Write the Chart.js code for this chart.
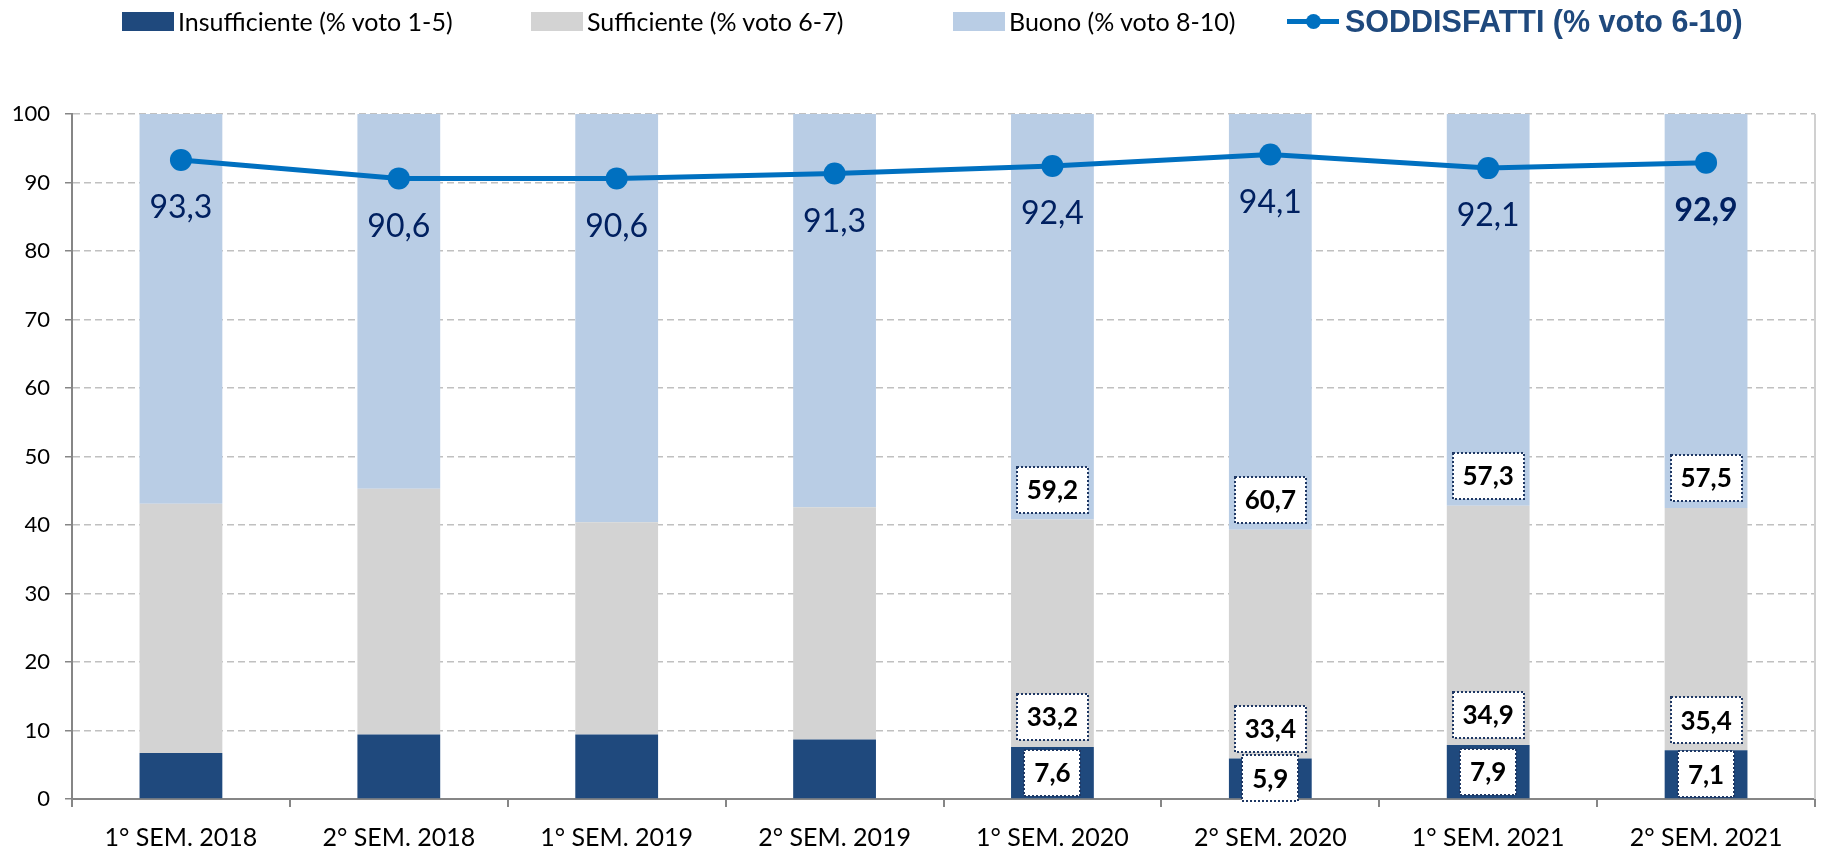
<!DOCTYPE html>
<html>
<head>
<meta charset="utf-8">
<script src="https://cdn.jsdelivr.net/npm/chart.js@4.4.0/dist/chart.umd.min.js"></script>
<style>
  html, body { margin: 0; padding: 0; background: #fff; }
  #wrap { position: relative; width: 1826px; height: 852px; }
  #chart { position: absolute; left: 0; top: 0; }
  .leg { position: absolute; top: 0; height: 42px; display: flex; align-items: center;
         font-family: Lato, sans-serif; font-size: 25px; color: #000; white-space: nowrap; }
  .key { width: 52px; height: 19px; margin-right: 4px; }
  .lkey { position: relative; width: 52px; height: 5px; background: #0070c0; margin-right: 6px; }
  .lkey span { position: absolute; left: 19px; top: -5px; width: 15px; height: 15px; border-radius: 50%; background: #0070c0; }
  .bold { font-family: "Liberation Sans", Arial, sans-serif; font-weight: bold; font-size: 30.5px; color: #1f497d; }
</style>
</head>
<body>
<div id="wrap">
  <canvas id="chart" width="1826" height="852"></canvas>
  <div class="leg" style="left:122px"><div class="key" style="background:#1f497d"></div>Insufficiente (% voto 1-5)</div>
  <div class="leg" style="left:531px"><div class="key" style="background:#d3d3d3"></div>Sufficiente (% voto 6-7)</div>
  <div class="leg" style="left:953px"><div class="key" style="background:#b9cde5"></div>Buono (% voto 8-10)</div>
  <div class="leg bold" style="left:1287px"><div class="lkey"><span></span></div>SODDISFATTI (% voto 6-10)</div>
</div>
<script>
const semesters = ['1° SEM. 2018', '2° SEM. 2018', '1° SEM. 2019', '2° SEM. 2019',
                   '1° SEM. 2020', '2° SEM. 2020', '1° SEM. 2021', '2° SEM. 2021'];
const insufficiente = [6.7, 9.4, 9.4, 8.7, 7.6, 5.9, 7.9, 7.1];
const sufficiente = [36.4, 35.9, 31.0, 33.9, 33.2, 33.4, 34.9, 35.4];
const buono = [56.9, 54.7, 59.6, 57.4, 59.2, 60.7, 57.3, 57.5];
const soddisfatti = [93.3, 90.6, 90.6, 91.3, 92.4, 94.1, 92.1, 92.9];
// only the last four semesters carry boxed values on the bars
const boxedColumns = [false, false, false, false, true, true, true, true];

const fmt = v => v.toFixed(1).replace('.', ',');

// value labels: under the line points and boxed inside the bars
const valueLabels = {
  id: 'valueLabels',
  afterDatasetsDraw(chart) {
    const ctx = chart.ctx;
    ctx.save();
    ctx.textAlign = 'center';
    ctx.textBaseline = 'middle';

    const lineMeta = chart.getDatasetMeta(3);
    lineMeta.data.forEach((pt, i) => {
      ctx.font = (i === soddisfatti.length - 1 ? 'bold ' : '') + '32px Lato';
      ctx.fillStyle = '#002060';
      ctx.fillText(fmt(soddisfatti[i]), pt.x, pt.y + 48);
    });

    [0, 1, 2].forEach(di => {
      const meta = chart.getDatasetMeta(di);
      const values = chart.data.datasets[di].data;
      meta.data.forEach((bar, i) => {
        if (!boxedColumns[i]) return;
        const txt = fmt(values[i]);
        ctx.font = 'bold 26px Lato';
        const w = Math.round(ctx.measureText(txt).width + 20);
        const h = 46;
        const cy = di === 0 ? (bar.y + bar.base) / 2 : bar.base - 7 - h / 2;
        const x0 = Math.round(bar.x - w / 2), y0 = Math.round(cy - h / 2);
        ctx.fillStyle = '#fff';
        ctx.fillRect(x0, y0, w, h);
        ctx.setLineDash([2, 2]);
        ctx.lineWidth = 2;
        ctx.strokeStyle = '#1f3864';
        ctx.strokeRect(x0, y0, w, h);
        ctx.setLineDash([]);
        ctx.fillStyle = '#000';
        ctx.fillText(txt, bar.x, cy + 1);
      });
    });
    ctx.restore();
  }
};

// light border on the right side of the plot area
const plotBorder = {
  id: 'plotBorder',
  beforeDatasetsDraw(chart) {
    const { ctx, chartArea } = chart;
    ctx.save();
    ctx.strokeStyle = '#d0d0d0';
    ctx.lineWidth = 2;
    ctx.beginPath();
    ctx.moveTo(chartArea.right, chartArea.top);
    ctx.lineTo(chartArea.right, chartArea.bottom);
    ctx.stroke();
    ctx.restore();
  }
};

new Chart(document.getElementById('chart'), {
  type: 'bar',
  data: {
    labels: semesters,
    datasets: [
      { label: 'Insufficiente (% voto 1-5)', data: insufficiente, backgroundColor: '#1f497d', stack: 'v', order: 2 },
      { label: 'Sufficiente (% voto 6-7)', data: sufficiente, backgroundColor: '#d3d3d3', stack: 'v', order: 2 },
      { label: 'Buono (% voto 8-10)', data: buono, backgroundColor: '#b9cde5', stack: 'v', order: 2 },
      {
        type: 'line', label: 'SODDISFATTI (% voto 6-10)', data: soddisfatti, stack: 'line', order: 1,
        borderColor: '#0070c0', backgroundColor: '#0070c0', borderWidth: 5, tension: 0,
        pointRadius: 11, pointHoverRadius: 11, pointBorderWidth: 0, pointBackgroundColor: '#0070c0'
      }
    ]
  },
  options: {
    responsive: false,
    animation: false,
    devicePixelRatio: 1,
    layout: { padding: { top: 114, right: 8, left: 0, bottom: 0 } },
    datasets: { bar: { categoryPercentage: 1, barPercentage: 0.38, borderWidth: 0 } },
    plugins: { legend: { display: false }, tooltip: { enabled: false } },
    scales: {
      x: {
        stacked: true,
        grid: { offset: true, drawOnChartArea: false, tickLength: 8, color: '#868686', lineWidth: 2 },
        border: { color: '#868686', width: 2 },
        ticks: { color: '#000', font: { family: 'Lato', size: 25 }, padding: 16 },
        afterFit: s => { s.height = 53; }
      },
      y: {
        stacked: true,
        min: 0, max: 100,
        grid: { color: '#c0c0c0', lineWidth: 1.5, tickColor: '#868686', tickLength: 7 },
        border: { color: '#868686', width: 2, dash: [7, 4] },
        ticks: { stepSize: 10, color: '#000', font: { family: 'Lato', size: 22 }, padding: 15 },
        afterFit: s => { s.width = 72; }
      }
    }
  },
  plugins: [plotBorder, valueLabels]
});
</script>
</body>
</html>
